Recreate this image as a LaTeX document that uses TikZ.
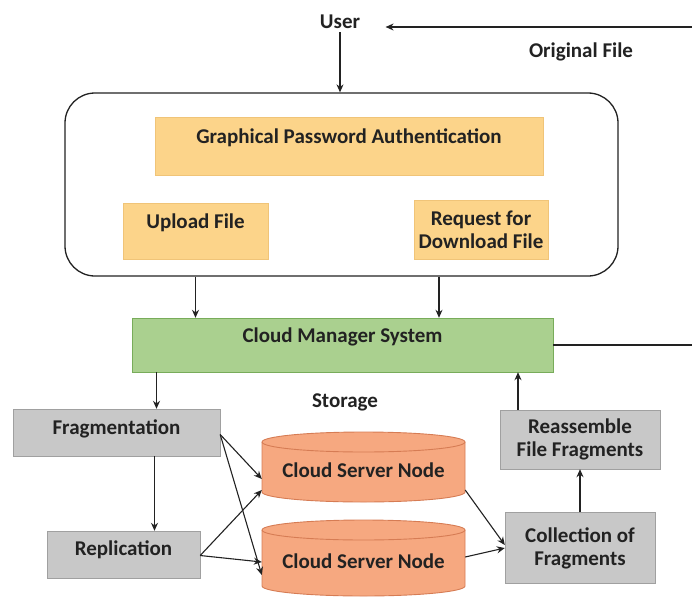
\documentclass[tikz,border=0pt]{standalone}
\usepackage{fontspec}
\setmainfont{Carlito}
\usetikzlibrary{arrows.meta}
\definecolor{orfill}{RGB}{252,212,138}
\definecolor{ordraw}{RGB}{240,196,120}
\definecolor{grfill}{RGB}{170,208,143}
\definecolor{grdraw}{RGB}{120,172,90}
\definecolor{gyfill}{RGB}{200,200,200}
\definecolor{gydraw}{RGB}{160,160,160}
\definecolor{cyfill}{RGB}{246,168,128}
\definecolor{cydraw}{RGB}{214,124,84}
\definecolor{ink}{RGB}{34,34,34}
\tikzset{
  lbl/.style={font=\bfseries\fontsize{21}{23}\selectfont, text=ink},
  obox/.style={lbl, draw=ordraw, fill=orfill, inner sep=0pt, align=center},
  gbox/.style={lbl, draw=grdraw, fill=grfill, inner sep=0pt, align=center},
  ybox/.style={lbl, draw=gydraw, fill=gyfill, inner sep=0pt, align=center},
  up/.style={text height=13.5pt, text depth=#1},
  arr/.style={draw=ink, line width=1.1pt, -{Stealth[length=8pt,width=7pt]}},
  ln/.style={draw=ink, line width=1.1pt},
  cyl/.style={draw=cydraw, fill=cyfill, line width=0.9pt}
}
\begin{document}
\begin{tikzpicture}[x=1pt,y=-1pt]
\useasboundingbox (0,0) rectangle (692,607);
% cylinders
\path[cyl] (262,442) -- (262,492) arc[start angle=180,end angle=0,x radius=101.5,y radius=10] -- (465,442) arc[start angle=0,end angle=-180,x radius=101.5,y radius=10] -- cycle;
\draw[cyl, fill=none] (262,442) arc[start angle=180,end angle=0,x radius=101.5,y radius=10];
\path[cyl] (262,530) -- (262,586) arc[start angle=180,end angle=0,x radius=101.5,y radius=10] -- (465,530) arc[start angle=0,end angle=-180,x radius=101.5,y radius=10] -- cycle;
\draw[cyl, fill=none] (262,530) arc[start angle=180,end angle=0,x radius=101.5,y radius=10];

\node[lbl] (user) at (340,22) {User};
\node[lbl] (orig) at (581,52) {Original File};
\node[lbl] (stor) at (345,402) {Storage};
\coordinate (eA) at (692,27);
\coordinate (eB) at (692,345);

\node[draw=ink, line width=1.3pt, rounded corners=30pt, minimum width=553pt, minimum height=183pt, inner sep=0pt] (frame) at (341.5,184.5) {};
\node[obox, minimum width=388pt, minimum height=58pt, up=18pt] (gpa) at (349,146) {Graphical Password Authentication};
\node[obox, minimum width=145pt, minimum height=56pt, up=18pt] (upl) at (195.5,231) {Upload File};
\node[obox, minimum width=134pt, minimum height=59pt] (req) at (481,229.5) {Request for\\Download File};
\node[gbox, minimum width=421pt, minimum height=54pt, up=18pt] (cms) at (342.5,345) {Cloud Manager System};
\node[ybox, minimum width=207pt, minimum height=47pt, up=10pt] (frag) at (116.5,432.5) {Fragmentation};
\node[ybox, minimum width=153pt, minimum height=47pt, up=12pt] (repl) at (123.5,554.5) {Replication};
\node[ybox, minimum width=160pt, minimum height=59pt] (reas) at (580,439.5) {Reassemble\\File Fragments};
\node[ybox, minimum width=150pt, minimum height=71pt] (coll) at (580,548) {Collection of\\Fragments};
\node[lbl, minimum width=203pt, minimum height=70pt, inner sep=0pt] (c1) at (363.5,470) {Cloud Server Node};
\node[lbl, minimum width=203pt, minimum height=76pt, inner sep=0pt] (c2) at (363.5,561) {Cloud Server Node};

% connectors
\draw[arr] (eA) -- ([xshift=22pt]user.east |- eA);
\draw[arr] (user.south) -- (user.south |- frame.north);
\draw[arr] (upl.south |- frame.south) -- (upl.south |- cms.north);
\draw[arr] ([xshift=-42pt]req.south |- frame.south) -- ([xshift=-42pt]req.south |- cms.north);
\draw[ln] (cms.east) -- (eB);
\draw[arr] ([xshift=40pt]frag.north |- cms.south) -- ([xshift=40pt]frag.north);
\draw[arr] ([xshift=38pt]frag.south) -- ([xshift=38pt]frag.south |- repl.north);
\draw[arr] ([yshift=-2pt]frag.east) -- ([yshift=-9pt]c1.west);
\draw[arr] ([yshift=-2pt]frag.east) -- ([yshift=-14pt]c2.west);
\draw[arr] ([yshift=-1pt]repl.east) -- ([yshift=-20pt]c1.west);
\draw[arr] ([yshift=-1pt]repl.east) -- ([yshift=-1pt]c2.west);
\draw[arr] ([yshift=-20pt]c1.east) -- ([yshift=3pt]coll.west);
\draw[arr] ([yshift=4pt]c2.east) -- ([yshift=0pt]coll.west);
\draw[arr] (coll.north) -- (reas.south);
\draw[arr] ([xshift=-62pt]reas.north) -- ([xshift=-62pt]reas.north |- cms.south);
\end{tikzpicture}
\end{document}
